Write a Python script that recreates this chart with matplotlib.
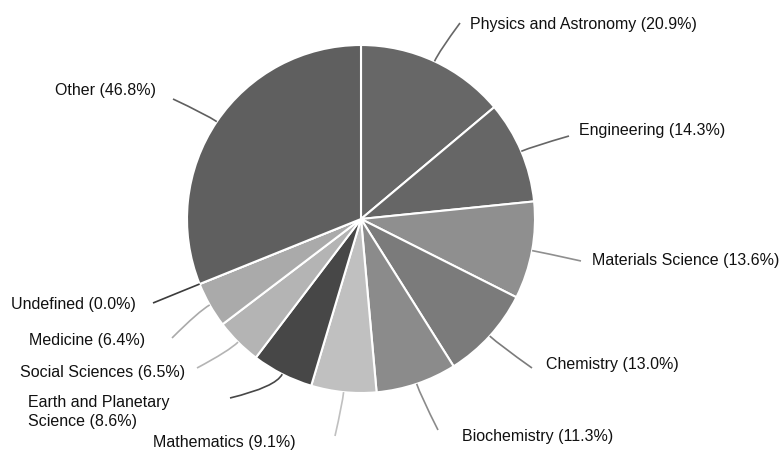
import numpy as np
import matplotlib
matplotlib.use("Agg")
import matplotlib.pyplot as plt
from matplotlib.path import Path
from matplotlib.patches import PathPatch

# data
categories = ["Physics and Astronomy", "Engineering", "Materials Science", "Chemistry",
              "Biochemistry", "Mathematics", "Earth and Planetary\nScience", "Social Sciences",
              "Medicine", "Undefined", "Other"]
values = [20.9, 14.3, 13.6, 13.0, 11.3, 9.1, 8.6, 6.5, 6.4, 0.0, 46.8]
colors = ["#676767", "#666666", "#8f8f8f", "#7b7b7b", "#8b8b8b", "#c0c0c0",
          "#474747", "#b4b4b4", "#aaaaaa", "#3c3c3c", "#5f5f5f"]

# layout in pixel coords (y measured from top), label left edge
W, H = 782, 450
cx, cy, R = 361, 219, 174
label_pos = [(470, 25), (579, 130), (592, 261), (546, 365), (462, 437), (153, 443),
             (28, 412), (20, 372), (29, 340), (11, 304), (55, 91)]
conn_end = [(460, 23), (569, 136), (581, 261), (532, 368), (438, 430), (335, 436),
            (230, 398), (197, 368), (172, 338), (153, 303), (173, 99)]

fig = plt.figure(figsize=(W / 100, H / 100), dpi=100)
ax = fig.add_axes([0, 0, 1, 1])

wedges, _ = ax.pie(values, colors=colors, startangle=90, counterclock=False,
                   center=(cx, H - cy), radius=R,
                   wedgeprops=dict(edgecolor="white", linewidth=1.5))
ax.set_xlim(0, W)
ax.set_ylim(0, H)
ax.set_aspect("equal")
ax.axis("off")

total = sum(values)
start = 0.0
for i, v in enumerate(values):
    mid = np.radians(start + v / total * 180.0)
    start += v / total * 360.0
    ux, uy = np.sin(mid), np.cos(mid)
    sx, sy = cx + R * ux, (H - cy) + R * uy
    ex, ey = conn_end[i][0], H - conn_end[i][1]
    d = np.hypot(ex - sx, ey - sy)
    c = (sx + ux * d * 0.25, sy + uy * d * 0.25)
    path = Path([(sx, sy), c, (ex, ey)], [Path.MOVETO, Path.CURVE3, Path.CURVE3])
    ax.add_patch(PathPatch(path, fill=False, edgecolor=colors[i], linewidth=1.2))

    lx, ly = label_pos[i]
    ax.text(lx, H - ly, f"{categories[i]} ({v:.1f}%)", ha="left", va="center",
            fontsize=11.5, family="Liberation Sans", color="#111111", linespacing=1.3)

plt.savefig("out.png", dpi=100)
